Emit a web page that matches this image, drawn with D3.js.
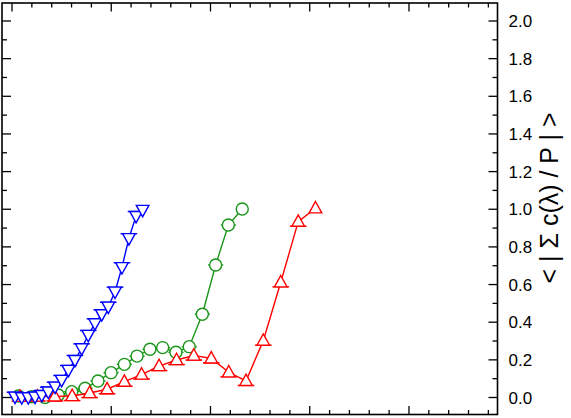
<!DOCTYPE html>
<html>
<head>
<meta charset="utf-8">
<script src="https://cdn.jsdelivr.net/npm/d3@7"></script>
<style>
  html, body { margin: 0; padding: 0; background: #fff; }
  svg { display: block; font-family: "Liberation Sans", Arial, Helvetica, sans-serif; }
</style>
</head>
<body>
<svg id="chart" width="571" height="418"></svg>
<script>
// ---- data (x in minor-tick units, y = <|Σ c(λ)/P|>) ----
const blueX = [0.15,0.49,0.82,1.16,1.50,1.83,2.17,2.50,2.84,3.17,3.51,3.84,4.18,4.52,4.85,5.19,5.54,5.89,6.25,6.58];
const blueY = [0.004,0.001,0.001,0.004,0.013,0.031,0.057,0.093,0.146,0.199,0.261,0.332,0.394,0.442,0.482,0.562,0.692,0.846,0.964,0.996];
const blueErr = [0.42,0.42,0.42,0.42,0.42,0.42,0.42,0.42,0.42,0.42,0.42,0.42,0.42,0.42,0.42,0.42,0.42,0.42,0.42,0];

const greenX = [0.32,0.99,1.66,2.33,3.01,3.68,4.33,4.99,5.66,6.30,6.95,7.59,8.26,8.93,9.59,10.26,10.90,11.60];
const greenY = [0.008,0.004,0.000,0.013,0.031,0.049,0.088,0.132,0.176,0.220,0.256,0.265,0.240,0.270,0.442,0.704,0.916,1.001];
const greenErr = [0.38,0.38,0.38,0.38,0.38,0.38,0.38,0.38,0.38,0.38,0.38,0.38,0.38,0.38,0.38,0.38,0.38,0];

const redX = [0.40,1.28,2.16,3.03,3.91,4.79,5.66,6.53,7.41,8.29,9.16,10.04,10.92,11.79,12.66,13.54,14.42,15.29];
const redY = [0.004,0.005,0.006,0.008,0.024,0.044,0.084,0.122,0.167,0.199,0.223,0.208,0.134,0.088,0.302,0.612,0.934,1.005];
const redErr = [0.42,0.42,0.42,0.42,0.42,0.42,0.42,0.42,0.42,0.42,0.42,0.42,0.42,0.42,0.42,0.42,0.42,0];

const yTickLabels = ["0.0","0.2","0.4","0.6","0.8","1.0","1.2","1.4","1.6","1.8","2.0"];
const yTitle = "< | \u03A3 c(\u03BB) / P | >";

// ---- layout ----
const svg = d3.select("#chart");
const L = 2, R = 497.5, T = 3, B = 414.5;
const x = d3.scaleLinear().domain([-0.504, 24.46]).range([L, R]);
const y = d3.scaleLinear().domain([-0.0903, 2.0956]).range([B, T]);

const xMinor = d3.range(0, 25, 1);
const yMinor = d3.range(0, 21, 1).map(d => d / 10);

const g = svg.append("g");

// ticks (inward on all sides)
const tickG = g.append("g").attr("stroke", "#000").attr("stroke-width", 1.3);
xMinor.forEach(v => {
  const len = (v % 5 === 0) ? 8.5 : 4.5;
  tickG.append("line").attr("x1", x(v)).attr("x2", x(v)).attr("y1", B).attr("y2", B - len);
  tickG.append("line").attr("x1", x(v)).attr("x2", x(v)).attr("y1", T).attr("y2", T + len);
});
yMinor.forEach((v, i) => {
  const len = (i % 2 === 0) ? 9 : 5;
  tickG.append("line").attr("x1", L).attr("x2", L + len).attr("y1", y(v)).attr("y2", y(v));
  tickG.append("line").attr("x1", R).attr("x2", R - len).attr("y1", y(v)).attr("y2", y(v));
});

// frame
g.append("rect").attr("x", L).attr("y", T).attr("width", R - L).attr("height", B - T)
  .attr("fill", "none").attr("stroke", "#000").attr("stroke-width", 1.6);

// right axis labels
g.append("g").selectAll("text").data(yTickLabels).join("text")
  .attr("x", R + 11)
  .attr("y", d => y(+d))
  .attr("dy", "0.36em")
  .attr("font-size", 17)
  .attr("fill", "#000")
  .text(d => d);

// axis title (rotated)
g.append("text")
  .attr("transform", `translate(${558},${y(1.06)}) rotate(-90)`)
  .attr("text-anchor", "middle")
  .attr("font-size", 25)
  .attr("fill", "#000")
  .text(yTitle);

// ---- series ----
const series = [
  {xs: greenX, ys: greenY, es: greenErr, color: "#1a961a", shape: "circle"},
  {xs: redX, ys: redY, es: redErr, color: "#ff0000", shape: "up"},
  {xs: blueX, ys: blueY, es: blueErr, color: "#0000ff", shape: "down"}
];

const line = d3.line().x(d => x(d[0])).y(d => y(d[1]));

series.forEach(s => {
  const pts = s.xs.map((v, i) => [v, s.ys[i], s.es[i]]);
  const sg = g.append("g");
  sg.append("path").datum(pts).attr("d", line)
    .attr("fill", "none").attr("stroke", s.color).attr("stroke-width", 1.4);

  // error bars (horizontal), at marker's flat edge for triangles
  const barDy = s.shape === "up" ? 4.5 : (s.shape === "down" ? -4.5 : 0);
  sg.selectAll("line.err").data(pts.filter(p => p[2] > 0)).join("line")
    .attr("x1", p => x(p[0] - p[2])).attr("x2", p => x(p[0] + p[2]))
    .attr("y1", p => y(p[1]) + barDy).attr("y2", p => y(p[1]) + barDy)
    .attr("stroke", s.color).attr("stroke-width", 1.4);

  const mk = sg.selectAll("g.mk").data(pts).join("g")
    .attr("transform", p => `translate(${x(p[0])},${y(p[1])})`);
  if (s.shape === "circle") {
    mk.append("circle").attr("r", 6).attr("fill", "#fff").attr("stroke", s.color).attr("stroke-width", 1.4);
  } else if (s.shape === "up") {
    mk.append("path").attr("d", "M0,-6.8L6.3,4.6L-6.3,4.6Z").attr("fill", "#fff").attr("stroke", s.color).attr("stroke-width", 1.4);
  } else {
    mk.append("path").attr("d", "M0,6.8L6.3,-4.6L-6.3,-4.6Z").attr("fill", "#fff").attr("stroke", s.color).attr("stroke-width", 1.4);
  }
});
</script>
</body>
</html>
